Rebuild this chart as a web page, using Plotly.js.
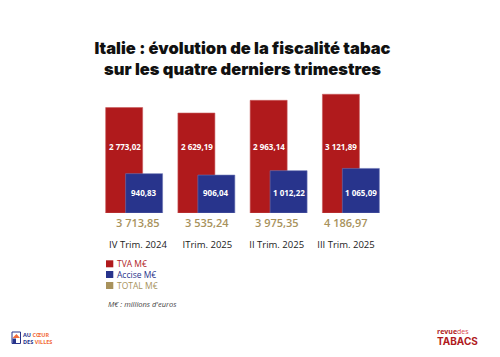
<!DOCTYPE html>
<html><head><meta charset="utf-8">
<script src="https://cdn.plot.ly/plotly-3.0.1.min.js"></script>
<style>html,body{margin:0;padding:0;background:#fff}#chart{width:500px;height:357px}</style>
</head><body><div id="chart"></div>
<script>
const categories = ["IV Trim. 2024", "ITrim. 2025", "II Trim. 2025", "III Trim. 2025"];
const tva = [2773.02, 2629.19, 2963.14, 3121.89];
const accise = [940.83, 906.04, 1012.22, 1065.09];
const total = [3713.85, 3535.24, 3975.35, 4186.97];
const seriesNames = ["TVA M€", "Accise M€", "TOTAL M€"];
const seriesColors = ["#b01a1c", "#28348c", "#a8925c"];

function fmt(v){
  const parts = v.toFixed(2).split(".");
  const intp = parts[0].replace(/\B(?=(\d{3})+(?!\d))/g, " ");
  return intp + "," + parts[1];
}
const L = 98, W = 289, T = 85, H = 128;
const px = x => (x - L) / W;
const py = y => (T + H - y) / H;
const idx = categories.map((c, i) => i);

const traces = [
  {type:"bar", x:idx, y:tva, name:seriesNames[0], xaxis:"x", yaxis:"y",
   width:0.512, offset:-0.394, marker:{color:seriesColors[0], line:{color:"#c85a5c", width:0.6}},
   hoverinfo:"skip", showlegend:false},
  {type:"bar", x:idx, y:accise, name:seriesNames[1], xaxis:"x", yaxis:"y2",
   width:0.512, offset:-0.118, marker:{color:seriesColors[1], line:{color:"#6a74b4", width:0.6}},
   hoverinfo:"skip", showlegend:false}
];

const annotations = [];
idx.forEach(i => {
  annotations.push({xref:"x", yref:"paper", x:i-0.132, y:0.518, text:"<b>"+fmt(tva[i])+"</b>",
    showarrow:false, font:{family:"Open Sans", size:8, color:"#fff"}, xanchor:"center", yanchor:"middle"});
  annotations.push({xref:"x", yref:"paper", x:i+0.138, y:0.159, text:"<b>"+fmt(accise[i])+"</b>",
    showarrow:false, font:{family:"Open Sans", size:8, color:"#fff"}, xanchor:"center", yanchor:"middle"});
  annotations.push({xref:"x2", yref:"paper", x:i, y:py(222), text:fmt(total[i]),
    showarrow:false, font:{family:"Open Sans", size:11, color:seriesColors[2], weight:600}, xanchor:"center", yanchor:"middle"});
});

const shapes = [];
const legY = [263.8, 274.5, 285.5];
seriesNames.forEach((n, k) => {
  shapes.push({type:"rect", xref:"paper", yref:"paper", x0:px(106), x1:px(113.3),
    y0:py(legY[k]-3.5), y1:py(legY[k]+3.5), fillcolor:seriesColors[k], line:{width:0}});
  annotations.push({xref:"paper", yref:"paper", x:px(115.5), y:py(legY[k]), text:n, showarrow:false,
    xanchor:"left", yanchor:"middle", borderpad:0, font:{family:"Open Sans", size:8.5, color:seriesColors[k]}});
});
annotations.push({xref:"paper", yref:"paper", x:px(105.5), y:py(304), text:"<i>M€ : millions d'euros</i>",
  showarrow:false, xanchor:"left", yanchor:"middle", font:{family:"Open Sans", size:7.5, color:"#444"}});

// logos
shapes.push({type:"rect", xref:"paper", yref:"paper", x0:px(12), x1:px(20.5), y0:py(343.5), y1:py(332),
  fillcolor:"#fff", line:{color:"#28348c", width:1}});
shapes.push({type:"path", xref:"paper", yref:"paper",
  path:`M ${px(12.5)} ${py(338)} L ${px(16.5)} ${py(334)} L ${px(20)} ${py(338)} Z`, fillcolor:"#f26b3a", line:{width:0}});
shapes.push({type:"rect", xref:"paper", yref:"paper", x0:px(12.5), x1:px(16), y0:py(343), y1:py(338.5),
  fillcolor:"#28348c", line:{width:0}});
annotations.push({xref:"paper", yref:"paper", x:px(22), y:py(338), showarrow:false, xanchor:"left", yanchor:"middle",
  align:"left", borderpad:0, text:"<b>AU <span style='color:#f26b3a'>CŒUR</span><br>DES <span style='color:#f26b3a'>VILLES</span></b>",
  font:{family:"Open Sans", size:5.5, color:"#28348c"}});
annotations.push({xref:"paper", yref:"paper", x:px(436), y:py(331.5), showarrow:false, xanchor:"left", yanchor:"middle",
  borderpad:0, text:"<b>revue</b><span style='color:#d9484a'>des</span>", font:{family:"Open Sans", size:7, color:"#b01a1c"}});
annotations.push({xref:"paper", yref:"paper", x:px(436), y:py(340.5), showarrow:false, xanchor:"left", yanchor:"middle",
  borderpad:0, text:"<b>TABACS</b>", font:{family:"Inter", size:10, color:"#b01a1c", weight:900}});

const layout = {
  width:500, height:357,
  margin:{l:L, r:500-L-W, t:T, b:357-T-H, pad:0},
  paper_bgcolor:"#fff", plot_bgcolor:"rgba(0,0,0,0)",
  showlegend:false,
  title:{text:"Italie : évolution de la fiscalité tabac<br>sur les quatre derniers trimestres",
    font:{family:"Inter", size:16.5, color:"#111", weight:900},
    x:0.5, xanchor:"center", xref:"paper", y:0.85, yanchor:"top", yref:"container"},
  xaxis:{range:[-0.5, 3.5], showticklabels:false, showgrid:false, zeroline:false, showline:false, fixedrange:true},
  xaxis2:{overlaying:"x", anchor:"y", side:"bottom", range:[-0.577, 3.591], tickmode:"array",
    tickvals:idx, ticktext:categories, showgrid:false, zeroline:false, showline:false, ticks:"",
    ticklabelstandoff:24, tickfont:{family:"Open Sans", size:9.5, color:"#222"}},
  yaxis:{range:[0, 3366], visible:false, showgrid:false, zeroline:false},
  yaxis2:{range:[0, 3059], overlaying:"y", visible:false, showgrid:false, zeroline:false},
  annotations, shapes
};
Plotly.newPlot("chart", traces, layout, {staticPlot:true, displayModeBar:false});
</script></body></html>
